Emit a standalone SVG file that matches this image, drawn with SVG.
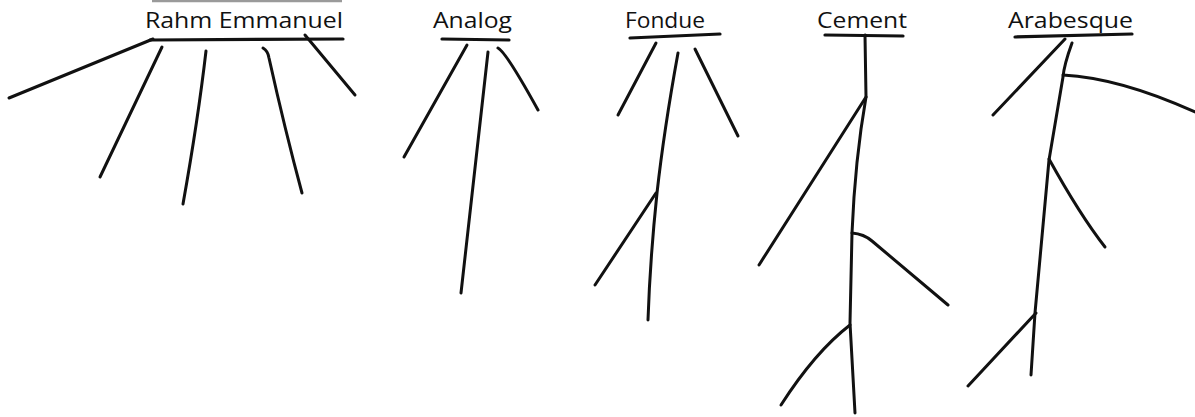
<svg xmlns="http://www.w3.org/2000/svg" width="1195" height="417" viewBox="0 0 1195 417">
<style>
.w{font-family:"Open Sans","Liberation Sans",sans-serif;font-size:22px;fill:#111}
.u{stroke:#111;stroke-width:3.2;fill:none;stroke-linecap:round}
.r{stroke:#111;stroke-width:3;fill:none;stroke-linecap:round;stroke-linejoin:round}
</style>
<rect width="1195" height="417" fill="#fff"/>
<line x1="152" y1="1" x2="342" y2="1" stroke="#9a9a9a" stroke-width="2.5"/>
<g id="rahm">
<text class="w" x="145" y="28" textLength="198" lengthAdjust="spacingAndGlyphs">Rahm Emmanuel</text>
<path class="u" d="M150 40 L343 39"/>
</g>
<g id="analog">
<text class="w" x="433" y="28" textLength="79" lengthAdjust="spacingAndGlyphs">Analog</text>
<path class="u" d="M442 39 L509 40"/>
</g>
<g id="fondue">
<text class="w" x="625" y="28" textLength="80" lengthAdjust="spacingAndGlyphs">Fondue</text>
<path class="u" d="M630 38 L720 34"/>
</g>
<g id="cement">
<text class="w" x="817" y="28" textLength="90" lengthAdjust="spacingAndGlyphs">Cement</text>
<path class="u" d="M825 35 L903 36"/>
</g>
<g id="arabesque">
<text class="w" x="1008" y="28" textLength="125" lengthAdjust="spacingAndGlyphs">Arabesque</text>
<path class="u" d="M1015 37 L1132 34"/>
</g>
<g id="connectors">
<path class="r" d="M153 39 L9 98"/>
<path class="r" d="M162 47 L100 177"/>
<path class="r" d="M206 51 Q198 120 183 204"/>
<path class="r" d="M263 48 Q268 51 269 58 Q285 130 302 193"/>
<path class="r" d="M305 35 L355 95"/>
<path class="r" d="M467 45 L404 157"/>
<path class="r" d="M488 52 L461 293"/>
<path class="r" d="M498 48 Q506 52 538 110"/>
<path class="r" d="M656 43 L618 115"/>
<path class="r" d="M678 53 Q664 130 657 193 Q650 260 648 320"/>
<path class="r" d="M656 193 L595 285"/>
<path class="r" d="M695 49 L738 136"/>
<path class="r" d="M865 35 L866 97 Q855 160 852 233 L850 323 L855 413"/>
<path class="r" d="M866 97 L759 265"/>
<path class="r" d="M852 233 Q864 234 872 241 L948 305"/>
<path class="r" d="M850 325 Q815 352 781 405"/>
<path class="r" d="M1065 39 L993 115"/>
<path class="r" d="M1072 43 Q1064 65 1063 77 L1049 160 L1035 313 L1031 375"/>
<path class="r" d="M1063 75 Q1120 78 1195 112"/>
<path class="r" d="M1049 159 Q1080 215 1105 247"/>
<path class="r" d="M1036 313 L968 386"/>
</g>
</svg>
